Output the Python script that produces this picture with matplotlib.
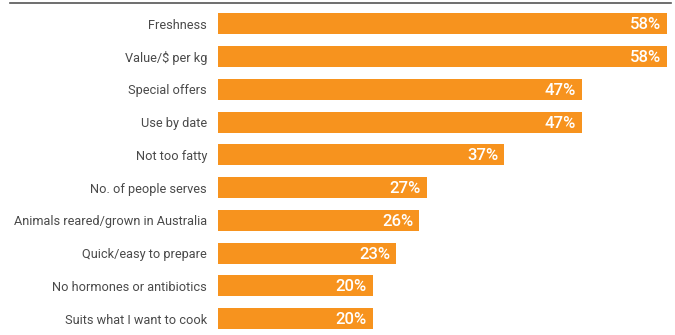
import matplotlib.pyplot as plt
from matplotlib.lines import Line2D

categories = ["Freshness", "Value/$ per kg", "Special offers", "Use by date",
              "Not too fatty", "No. of people serves",
              "Animals reared/grown in Australia", "Quick/easy to prepare",
              "No hormones or antibiotics", "Suits what I want to cook"]
values = [58, 58, 47, 47, 37, 27, 26, 23, 20, 20]

plt.rcParams['font.family'] = ['Roboto', 'DejaVu Sans']

W, H = 675, 335
fig = plt.figure(figsize=(W / 100, H / 100), dpi=100)
ax = fig.add_axes([218 / W, 0, (667 - 218) / W, 1 - 7.6 / H])

y = list(range(len(categories)))
ax.barh(y, values, height=0.64, color="#F7931E")
ax.set_xlim(0, 58)
ax.set_ylim(len(categories) - 0.5, -0.5)

for yi, v in zip(y, values):
    ax.text(v - 0.75, yi + 0.03, f"{v}%", ha="right", va="center",
            color="white", fontsize=12, fontweight="medium")

ax.set_yticks(y)
ax.set_yticklabels(categories, fontsize=9.2, color="#4a4a4a")
ax.tick_params(axis="y", length=0, pad=8)
ax.set_xticks([])
for s in ax.spines.values():
    s.set_visible(False)

fig.add_artist(Line2D([10 / W, 671 / W], [1 - 3 / H, 1 - 3 / H],
                      color="#555555", lw=1.2, transform=fig.transFigure))

fig.savefig("out.png", dpi=100)
